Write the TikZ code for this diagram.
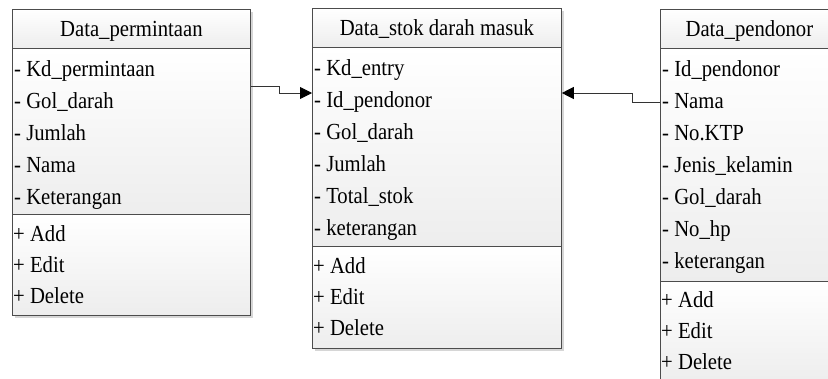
\documentclass[tikz,border=0pt]{standalone}
\usepackage{fontspec}
\setmainfont{Liberation Serif}[FakeStretch = 0.9]
\usetikzlibrary{arrows.meta, shadows}

\tikzset{
	section/.style = {draw = black!70, line width = 0.8pt, anchor = north west, inner sep = 0pt,
		top color = white, bottom color = black!7,
		drop shadow = {shadow xshift = 3pt, shadow yshift = -3pt, fill = black!40, opacity = 0.4}},
	title/.style = {anchor = base, inner sep = 0pt},
	item/.style = {anchor = base west, inner sep = 0pt},
	link/.style = {draw = black!80, line width = 0.9pt, -{Triangle[length = 12pt, width = 12pt, black]}}
}

\begin{document}
\begin{tikzpicture}[x = 1pt, y = -1pt, font = \fontsize{23pt}{26pt}\selectfont]

	\useasboundingbox (0, 0) rectangle (828, 378);
	\clip (0, 0) rectangle (828, 378);

	% Data_permintaan
	\node [section, minimum width = 238pt, minimum height = 39pt] (perm-head) at (12, 9) {};
	\node [section, minimum width = 238pt, minimum height = 166pt] (perm-attr) at (12, 48) {};
	\node [section, minimum width = 238pt, minimum height = 101pt] (perm-op) at (12, 214) {};
	\node [title] (perm-title) at (perm-head.center |- 0, 36) {Data\_permintaan};
	\foreach \t [count = \i] in {Kd\_permintaan, Gol\_darah, Jumlah, Nama, Keterangan}
		\node [item] (perm-a\i) at (14, 44 + 32*\i) {- \t};
	\foreach \t [count = \i] in {Add, Edit, Delete}
		\node [item] (perm-o\i) at (13, 210 + 31*\i) {+ \t};

	% Data_stok darah masuk
	\node [section, minimum width = 249pt, minimum height = 39pt] (stok-head) at (312, 8) {};
	\node [section, minimum width = 249pt, minimum height = 199pt] (stok-attr) at (312, 47) {};
	\node [section, minimum width = 249pt, minimum height = 102pt] (stok-op) at (312, 246) {};
	\node [title] (stok-title) at (stok-head.center |- 0, 35) {Data\_stok darah masuk};
	\foreach \t [count = \i] in {Kd\_entry, Id\_pendonor, Gol\_darah, Jumlah, Total\_stok, keterangan}
		\node [item] (stok-a\i) at (314, 43 + 32*\i) {- \t};
	\foreach \t [count = \i] in {Add, Edit, Delete}
		\node [item] (stok-o\i) at (313, 242 + 31*\i) {+ \t};

	% Data_pendonor
	\node [section, minimum width = 178pt, minimum height = 39pt] (donor-head) at (660, 9) {};
	\node [section, minimum width = 178pt, minimum height = 233pt] (donor-attr) at (660, 48) {};
	\node [section, minimum width = 178pt, minimum height = 102pt] (donor-op) at (660, 281) {};
	\node [title] (donor-title) at (donor-head.center |- 0, 36) {Data\_pendonor};
	\foreach \t [count = \i] in {Id\_pendonor, Nama, No.KTP, Jenis\_kelamin, Gol\_darah, No\_hp, keterangan}
		\node [item] (donor-a\i) at (662, 44 + 32*\i) {- \t};
	\foreach \t [count = \i] in {Add, Edit, Delete}
		\node [item] (donor-o\i) at (661, 276 + 31*\i) {+ \t};

	\draw [link] (perm-attr.east |- 0, 86) -- (279, 86) -- (279, 93) -- (stok-attr.west |- 0, 93);
	\draw [link] (donor-attr.west |- 0, 102) -- (632, 102) -- (632, 93) -- (stok-attr.east |- 0, 93);

\end{tikzpicture}
\end{document}
